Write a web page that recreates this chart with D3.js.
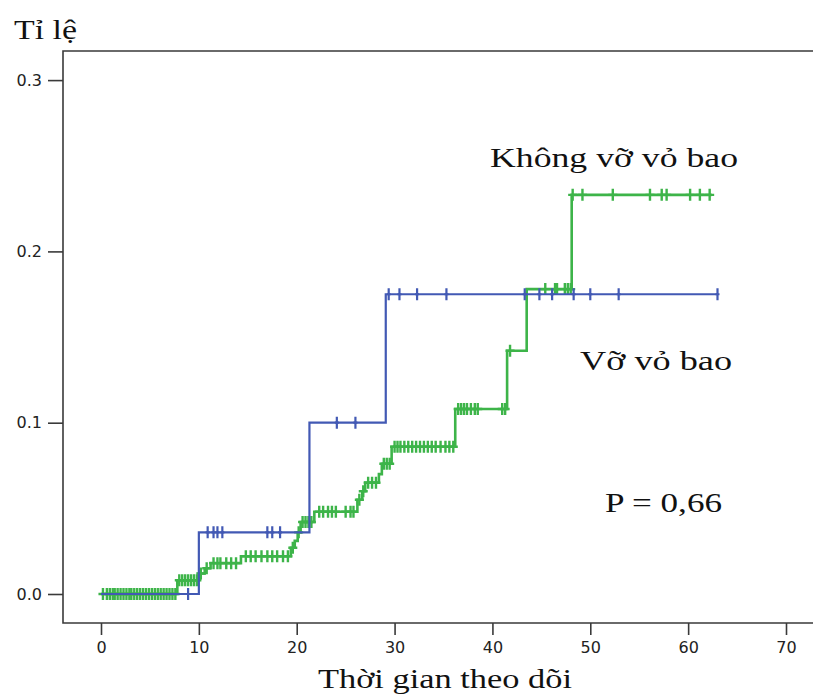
<!DOCTYPE html>
<html>
<head>
<meta charset="utf-8">
<script src="https://cdn.jsdelivr.net/npm/d3@7"></script>
<style>
  html, body { margin: 0; padding: 0; background: #fff; }
  svg { display: block; }
</style>
</head>
<body>
<svg id="chart" width="814" height="695"></svg>
<script>
// Axis ticks
const xTicks = [0, 10, 20, 30, 40, 50, 60, 70];
const yTicks = [0.0, 0.1, 0.2, 0.3];

// "Vỡ vỏ bao" group: event times and cumulative rate after each event
const ruptureTimes = [0, 10.0, 21.3, 29.1];
const ruptureLevels = [0, 0.036, 0.100, 0.175];
const ruptureEnd = 63.0;
const ruptureCensored = [8.9, 10.9, 11.5, 11.9, 12.4, 17.0, 17.5, 18.3,
  24.1, 26.0, 29.4, 30.5, 32.3, 35.3, 43.3, 44.8, 46.1, 48.3, 50.0, 52.9, 63.0];

// "Không vỡ vỏ bao" group
const intactTimes = [0, 7.8, 10.0, 10.6, 11.2, 14.3, 19.4, 19.8, 20.1, 20.4, 21.8,
  26.2, 26.7, 27.0, 28.4, 28.7, 29.7, 36.2, 41.5, 43.5, 48.1];
const intactLevels = [0, 0.008, 0.012, 0.015, 0.018, 0.022, 0.027, 0.031, 0.036, 0.042, 0.048,
  0.055, 0.060, 0.065, 0.070, 0.076, 0.086, 0.108, 0.142, 0.178, 0.233];
const intactEnd = 62.4;
const intactCensored = [0.2, 0.6, 0.9, 1.2, 1.4, 1.7, 2.0, 2.3, 2.6, 2.9, 3.1, 3.4, 3.7, 4.0,
  4.3, 4.6, 4.9, 5.2, 5.5, 5.8, 6.1, 6.4, 6.7, 7.0, 7.3, 7.6,
  8.0, 8.3, 8.6, 8.9, 9.2, 9.5, 9.8, 10.2, 10.8,
  11.5, 11.9, 12.2, 12.8, 13.3, 13.8,
  14.8, 15.3, 15.8, 16.4, 17.0, 17.5, 18.0, 18.6, 19.1,
  19.6, 20.2, 20.6, 20.9, 21.2, 21.5,
  22.3, 22.7, 23.2, 23.6, 24.0, 25.0, 25.5, 25.8,
  26.4, 26.8, 27.3, 27.7, 28.1, 28.9, 29.2, 29.5,
  30.0, 30.3, 30.6, 31.0, 31.4, 31.8, 32.2, 32.6, 33.0, 33.4, 33.8, 34.2, 34.7, 35.2, 35.6, 36.0,
  36.5, 36.8, 37.1, 37.4, 37.8, 38.2, 38.5, 41.0, 41.3, 41.8,
  45.4, 46.4, 46.6, 47.4, 47.7, 48.0,
  48.2, 49.2, 52.3, 56.1, 57.3, 57.8, 60.2, 61.2, 62.2];

const svg = d3.select("#chart");

const x = d3.scaleLinear().domain([0, 70]).range([101, 786]);
const y = d3.scaleLinear().domain([0, 0.3]).range([594, 80.1]);

// Plot frame
const frame = { left: 63, top: 51, right: 813, bottom: 623 };
const axisColor = "#3a3a3a";
svg.append("path")
  .attr("d", `M${frame.right},${frame.top}H${frame.left}V${frame.bottom}H${frame.right}`)
  .attr("fill", "none").attr("stroke", axisColor).attr("stroke-width", 1.6);

// Y axis
const yAxis = d3.axisLeft(y).tickValues(yTicks).tickFormat(d3.format(".1f"))
  .tickSize(15).tickPadding(6);
const gy = svg.append("g").attr("transform", `translate(${frame.left},0)`).call(yAxis);
gy.select(".domain").remove();
gy.selectAll(".tick line").attr("stroke", axisColor).attr("stroke-width", 1.6);
gy.selectAll(".tick text").attr("font-family", "'DejaVu Sans', sans-serif")
  .attr("font-size", 16).attr("fill", "#222");

// X axis
const xAxis = d3.axisBottom(x).tickValues(xTicks).tickFormat(d3.format("d"))
  .tickSize(12).tickPadding(7);
const gx = svg.append("g").attr("transform", `translate(0,${frame.bottom})`).call(xAxis);
gx.select(".domain").remove();
gx.selectAll(".tick line").attr("stroke", axisColor).attr("stroke-width", 1.6);
gx.selectAll(".tick text").attr("font-family", "'DejaVu Sans', sans-serif")
  .attr("font-size", 16).attr("fill", "#222");

// Step curves with censor marks
function levelAt(times, levels, t) {
  let v = levels[0];
  for (let i = 0; i < times.length; i++) if (times[i] <= t) v = levels[i];
  return v;
}

function drawGroup(times, levels, end, censored, color, width, arm, half, markWidth) {
  const pts = times.map((t, i) => [t, levels[i]]);
  pts.push([end, levels[levels.length - 1]]);
  const line = d3.line().x(d => x(d[0])).y(d => y(d[1])).curve(d3.curveStepAfter);
  const g = svg.append("g");
  g.append("path").attr("d", line(pts))
    .attr("fill", "none").attr("stroke", color).attr("stroke-width", width);
  g.selectAll("path.cens").data(censored).join("path").attr("class", "cens")
    .attr("d", t => {
      const cx = x(t), cy = y(levelAt(times, levels, t));
      return `M${cx - arm},${cy}H${cx + arm}M${cx},${cy - half}V${cy + half}`;
    })
    .attr("fill", "none").attr("stroke", color).attr("stroke-width", markWidth);
}

drawGroup(intactTimes, intactLevels, intactEnd, intactCensored, "#3db449", 2.6, 4.5, 6, 2.4);
drawGroup(ruptureTimes, ruptureLevels, ruptureEnd, ruptureCensored, "#4259b4", 2.2, 2, 6, 2.2);

// Text
const serif = "'Liberation Serif', 'Times New Roman', serif";
function label(txt, x0, base, len, size) {
  svg.append("text").attr("x", x0).attr("y", base)
    .attr("font-family", serif).attr("font-size", size).attr("fill", "#111")
    .attr("textLength", len).attr("lengthAdjust", "spacingAndGlyphs")
    .text(txt);
}
label("Tỉ lệ", 14, 39, 63, 27);
label("Không vỡ vỏ bao", 490, 167, 248, 27);
label("Vỡ vỏ bao", 580, 370, 152, 27);
label("P = 0,66", 605, 512, 117, 27);
label("Thời gian theo dõi", 318, 688, 254, 27);
</script>
</body>
</html>
